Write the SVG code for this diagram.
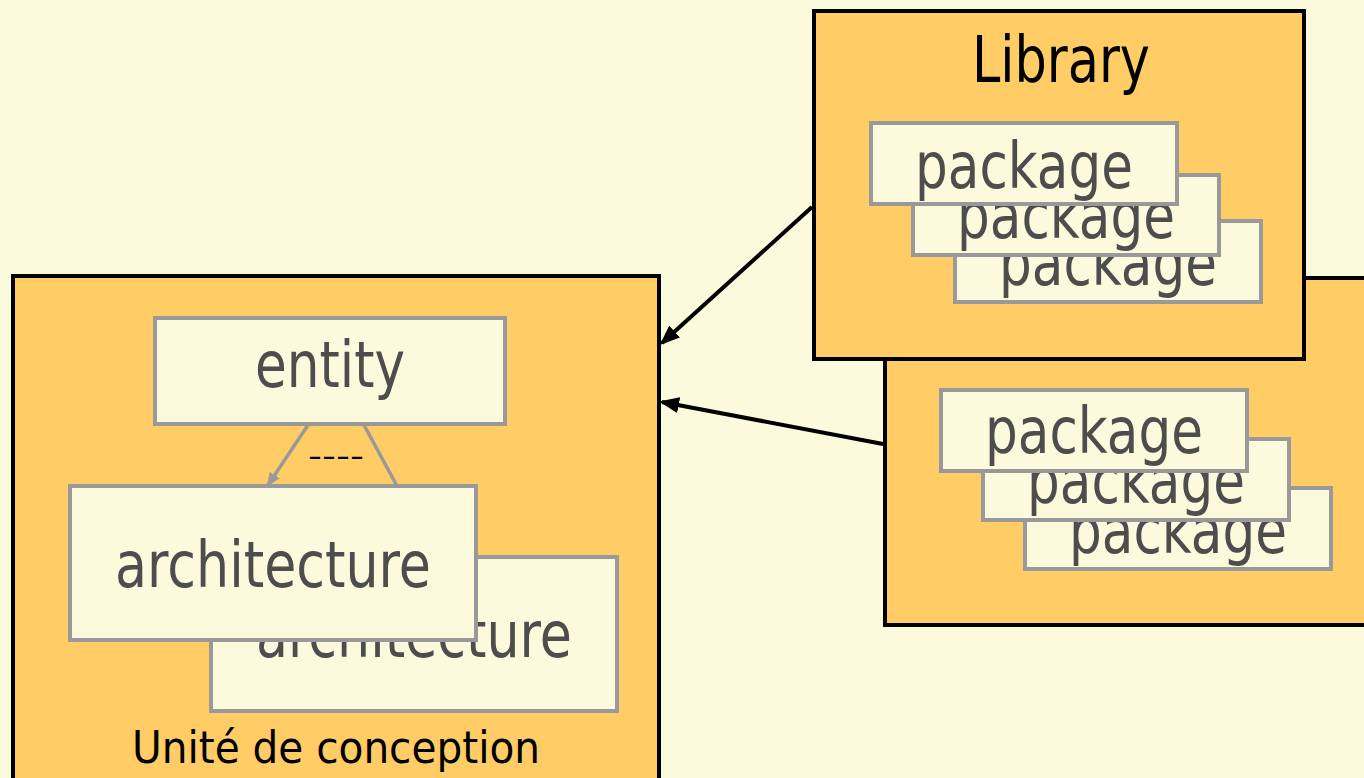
<svg xmlns="http://www.w3.org/2000/svg" width="1364" height="778" viewBox="0 0 1364 778">
  <defs>
    <style>
      .big { fill: #FFCC66; stroke: #000000; stroke-width: 4; }
      .box { fill: #FCFADC; stroke: #999999; stroke-width: 4; }
      .lbl { font-family: "DejaVu Sans", Verdana, sans-serif; font-size: 64px; fill: #4D4D4D; }
      .ttl { font-family: "DejaVu Sans", Verdana, sans-serif; fill: #000000; }
      .blk { stroke: #000000; stroke-width: 4; fill: none; }
      .gry { stroke: #999999; stroke-width: 3.5; fill: none; }
    </style>
    <marker id="ahBlack" markerUnits="userSpaceOnUse" markerWidth="20" markerHeight="16" refX="17" refY="8" orient="auto">
      <path d="M0,0 L20,8 L0,16 z" fill="#000000"/>
    </marker>
    <marker id="ahGray" markerUnits="userSpaceOnUse" markerWidth="14" markerHeight="12" refX="12" refY="6" orient="auto">
      <path d="M0,0 L14,6 L0,12 z" fill="#999999"/>
    </marker>
  </defs>

  <rect x="0" y="0" width="1364" height="778" fill="#FCFADC"/>

  <g id="library2">
    <rect class="big" x="885" y="278" width="520" height="347"/>
    <g id="pkg2c">
      <rect class="box" x="1025" y="488" width="306" height="81"/>
      <text class="lbl" x="1178" y="553" text-anchor="middle" textLength="218" lengthAdjust="spacingAndGlyphs">package</text>
    </g>
    <g id="pkg2b">
      <rect class="box" x="983" y="439" width="306" height="81"/>
      <text class="lbl" x="1136" y="503" text-anchor="middle" textLength="218" lengthAdjust="spacingAndGlyphs">package</text>
    </g>
    <g id="pkg2a">
      <rect class="box" x="941" y="390" width="306" height="81"/>
      <text class="lbl" x="1094" y="453" text-anchor="middle" textLength="218" lengthAdjust="spacingAndGlyphs">package</text>
    </g>
  </g>

  <g id="library">
    <rect class="big" x="814" y="11" width="490" height="348"/>
    <text class="ttl" x="972" y="82" font-size="64" textLength="178" lengthAdjust="spacingAndGlyphs">Library</text>
    <g id="pkg1c">
      <rect class="box" x="955" y="221" width="306" height="81"/>
      <text class="lbl" x="1108" y="285" text-anchor="middle" textLength="218" lengthAdjust="spacingAndGlyphs">package</text>
    </g>
    <g id="pkg1b">
      <rect class="box" x="913" y="175" width="306" height="80"/>
      <text class="lbl" x="1066" y="238" text-anchor="middle" textLength="218" lengthAdjust="spacingAndGlyphs">package</text>
    </g>
    <g id="pkg1a">
      <rect class="box" x="871" y="123" width="306" height="81"/>
      <text class="lbl" x="1024" y="188" text-anchor="middle" textLength="218" lengthAdjust="spacingAndGlyphs">package</text>
    </g>
  </g>

  <g id="unite">
    <rect class="big" x="13" y="276" width="646" height="600"/>
    <text class="ttl" x="132" y="763" font-size="45" textLength="408" lengthAdjust="spacingAndGlyphs">Unité de conception</text>
  </g>

  <g id="entity">
    <rect class="box" x="155" y="318" width="350" height="106"/>
    <text class="lbl" x="330" y="387" text-anchor="middle" textLength="150" lengthAdjust="spacingAndGlyphs">entity</text>
  </g>

  <g id="architecture2">
    <rect class="box" x="211" y="557" width="406" height="154"/>
    <text class="lbl" x="414" y="657" text-anchor="middle" textLength="316" lengthAdjust="spacingAndGlyphs">architecture</text>
  </g>

  <g id="architecture1">
    <rect class="box" x="70" y="486" width="406" height="154"/>
    <text class="lbl" x="273" y="587" text-anchor="middle" textLength="316" lengthAdjust="spacingAndGlyphs">architecture</text>
  </g>

  <g id="connectors">
    <line class="blk" x1="812" y1="207" x2="662" y2="343" marker-end="url(#ahBlack)"/>
    <line class="blk" x1="883" y1="444" x2="662" y2="402" marker-end="url(#ahBlack)"/>
    <line class="gry" x1="308" y1="425" x2="268" y2="485" marker-end="url(#ahGray)"/>
    <line class="gry" x1="364" y1="425" x2="397" y2="486"/>
    <text x="308" y="465" font-family="DejaVu Sans, Verdana, sans-serif" font-size="26" fill="#000000" textLength="56" lengthAdjust="spacingAndGlyphs">----</text>
  </g>
</svg>
